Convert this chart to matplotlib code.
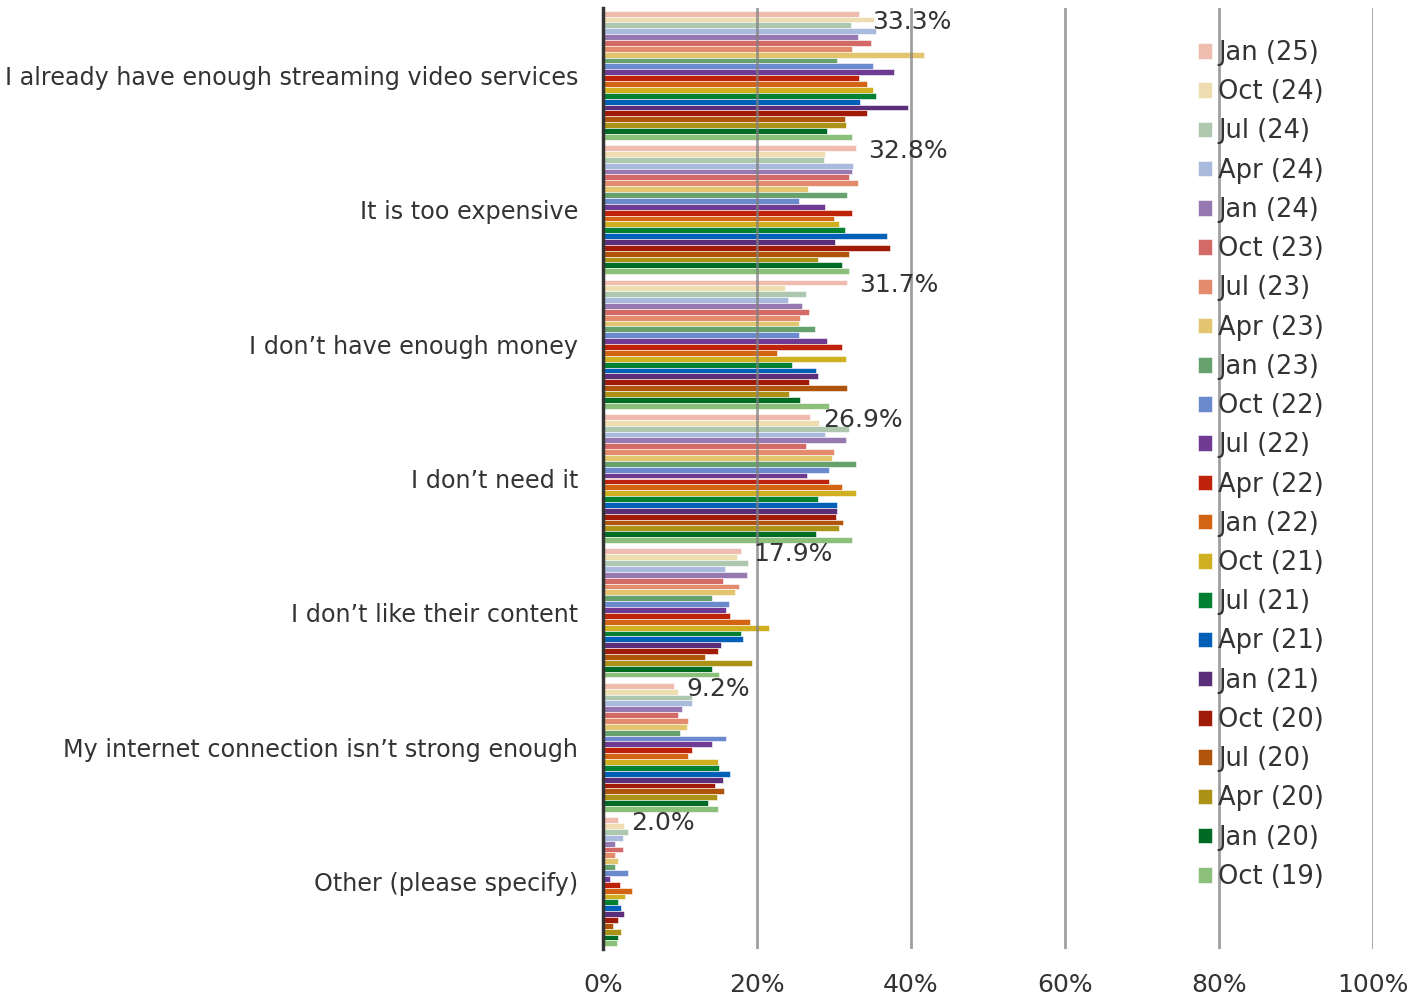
import matplotlib.pyplot as plt
import numpy as np

categories = ['I already have enough streaming video services',
              'It is too expensive',
              'I don\u2019t have enough money',
              'I don\u2019t need it',
              'I don\u2019t like their content',
              'My internet connection isn\u2019t strong enough',
              'Other (please specify)']

waves = ['Jan (25)', 'Oct (24)', 'Jul (24)', 'Apr (24)', 'Jan (24)', 'Oct (23)',
         'Jul (23)', 'Apr (23)', 'Jan (23)', 'Oct (22)', 'Jul (22)', 'Apr (22)',
         'Jan (22)', 'Oct (21)', 'Jul (21)', 'Apr (21)', 'Jan (21)', 'Oct (20)',
         'Jul (20)', 'Apr (20)', 'Jan (20)', 'Oct (19)']

colors = ['#F0BCB0', '#EEDDB0', '#AEC8B0', '#AABADD', '#9679B0', '#D46A68',
          '#E58B6D', '#E2C56E', '#66A16E', '#6B8ACD', '#6E3A92', '#BE2208',
          '#D26414', '#D0B020', '#008030', '#0060B8', '#5B2E7A', '#A01A08',
          '#B0540C', '#AD9218', '#006B24', '#8CC07A']

# one list per category, values in wave order (Jan 25 first)
enough_services = [33.3, 35.2, 32.2, 35.5, 33.1, 34.8, 32.4, 41.7, 30.4, 35.1, 37.8,
                   33.2, 34.3, 35.1, 35.4, 33.4, 39.6, 34.3, 31.4, 31.6, 29.1, 32.4]
too_expensive = [32.8, 28.8, 28.7, 32.5, 32.4, 31.9, 33.1, 26.6, 31.7, 25.5, 28.8,
                 32.3, 30.0, 30.6, 31.4, 36.9, 30.1, 37.3, 32.0, 27.9, 31.0, 31.9]
no_money = [31.7, 23.7, 26.3, 24.0, 25.8, 26.8, 25.6, 25.4, 27.5, 25.5, 29.1,
            31.0, 22.6, 31.6, 24.5, 27.7, 27.9, 26.8, 31.7, 24.2, 25.6, 29.4]
dont_need = [26.9, 28.1, 31.9, 28.8, 31.6, 26.3, 30.0, 29.7, 32.8, 29.4, 26.5,
             29.4, 31.0, 32.9, 27.9, 30.4, 30.4, 30.2, 31.2, 30.6, 27.7, 32.4]
content = [17.9, 17.4, 18.8, 15.8, 18.7, 15.6, 17.6, 17.2, 14.2, 16.4, 16.0,
           16.5, 19.1, 21.6, 17.9, 18.2, 15.3, 14.9, 13.3, 19.3, 14.1, 15.1]
internet = [9.2, 9.7, 11.6, 11.5, 10.2, 9.7, 11.1, 10.9, 10.0, 16.0, 14.1,
            11.5, 11.0, 14.9, 15.1, 16.5, 15.6, 14.6, 15.7, 14.8, 13.7, 14.9]
other = [2.0, 2.7, 3.2, 2.6, 1.5, 2.6, 1.6, 2.0, 1.6, 3.2, 0.9,
         2.2, 3.8, 2.9, 2.0, 2.4, 2.7, 2.0, 1.3, 2.4, 1.9, 1.8]

data = np.array([enough_services, too_expensive, no_money, dont_need,
                 content, internet, other])

fig = plt.figure(figsize=(14.09, 9.99), dpi=100)
ax = fig.add_axes([603 / 1409, 1 - 949 / 999, 770 / 1409, 941 / 999])

n = len(waves)
h = 0.96 / n
y = np.arange(len(categories))
for j in range(n):
    ax.barh(y + (j - (n - 1) / 2) * h, data[:, j], height=h, color=colors[j],
            edgecolor='white', linewidth=0.4, label=waves[j], zorder=2)

# data labels for the latest wave
for i in range(len(categories)):
    v = data[i, 0]
    dy = -6 if i == 0 else -2
    ax.annotate('{:.1f}%'.format(v), (v, y[i] - (n - 1) / 2 * h),
                xytext=(9, dy), textcoords='offset points',
                ha='left', va='center', fontsize=18, color='#333333', zorder=4)

ax.set_xlim(0, 100)
ax.set_ylim(len(categories) - 0.5, -0.5)
ax.set_xticks([0, 20, 40, 60, 80, 100])
ax.set_xticklabels(['0%', '20%', '40%', '60%', '80%', '100%'])
ax.set_yticks(y)
ax.set_yticklabels(categories)
ax.tick_params(axis='both', length=0, colors='#333333')
ax.tick_params(axis='x', pad=17, labelsize=18)
ax.tick_params(axis='y', pad=18, labelsize=17.2)
ax.xaxis.grid(True, color='#808080', alpha=0.75, linewidth=2, zorder=3)
ax.set_axisbelow(False)
for s in ['top', 'right', 'bottom']:
    ax.spines[s].set_visible(False)
ax.spines['left'].set_color('#333333')
ax.spines['left'].set_linewidth(2.5)
ax.spines['left'].set_zorder(5)

ax.legend(loc='upper left', bbox_to_anchor=(1198 / 1409, 1 - 40 / 999),
          bbox_transform=fig.transFigure, frameon=False, fontsize=18.5,
          borderpad=0, borderaxespad=0, handlelength=0.55, handleheight=0.55,
          handletextpad=0.23, labelspacing=0.515, labelcolor='#333333')

fig.savefig('out.png', dpi=100)
